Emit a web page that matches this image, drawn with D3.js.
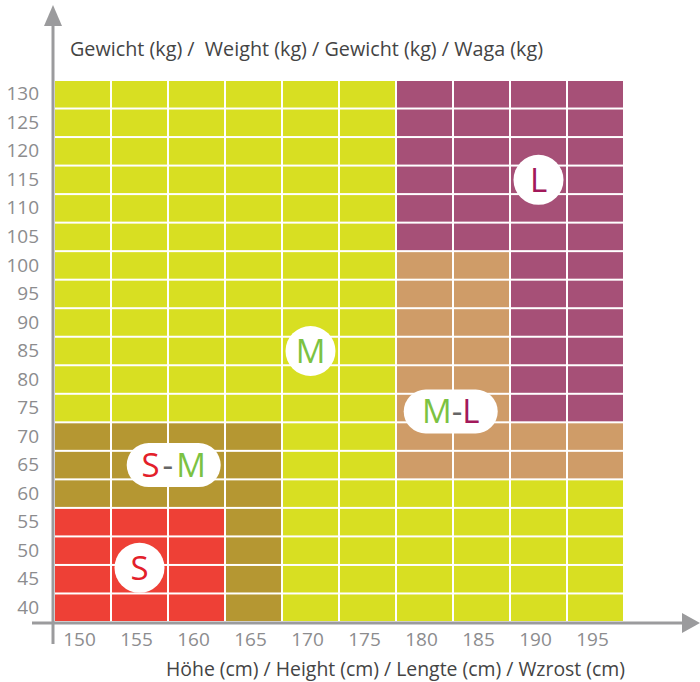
<!DOCTYPE html>
<html><head><meta charset="utf-8">
<script src="https://cdn.jsdelivr.net/npm/d3@7"></script>
<style>html,body{margin:0;padding:0;background:#fff}svg{display:block}</style>
</head><body>
<svg id="chart" width="700" height="682"></svg>
<script>
// ---- data ----
const heights = [150,155,160,165,170,175,180,185,190,195];
const weights = [130,125,120,115,110,105,100,95,90,85,80,75,70,65,60,55,50,45,40];
// size zone per weight row (top to bottom), one code per height column
const sizeRows = [
  ["M","M","M","M","M","M","L","L","L","L"], //130
  ["M","M","M","M","M","M","L","L","L","L"], //125
  ["M","M","M","M","M","M","L","L","L","L"], //120
  ["M","M","M","M","M","M","L","L","L","L"], //115
  ["M","M","M","M","M","M","L","L","L","L"], //110
  ["M","M","M","M","M","M","L","L","L","L"], //105
  ["M","M","M","M","M","M","ML","ML","L","L"], //100
  ["M","M","M","M","M","M","ML","ML","L","L"], //95
  ["M","M","M","M","M","M","ML","ML","L","L"], //90
  ["M","M","M","M","M","M","ML","ML","L","L"], //85
  ["M","M","M","M","M","M","ML","ML","L","L"], //80
  ["M","M","M","M","M","M","ML","ML","L","L"], //75
  ["SM","SM","SM","SM","M","M","ML","ML","ML","ML"], //70
  ["SM","SM","SM","SM","M","M","ML","ML","ML","ML"], //65
  ["SM","SM","SM","SM","M","M","M","M","M","M"], //60
  ["S","S","S","SM","M","M","M","M","M","M"], //55
  ["S","S","S","SM","M","M","M","M","M","M"], //50
  ["S","S","S","SM","M","M","M","M","M","M"], //45
  ["S","S","S","SM","M","M","M","M","M","M"]  //40
];
const zoneCodes = ["S","SM","M","ML","L"];
const zoneColors = ["#ee4036","#b59732","#d8df22","#cf9c68","#a65077"];
// badge labels at (height, weight)
const badgeNames = ["S","S-M","M","M-L","L"];
const badgeHeights = [155,158,170,182.3,190];
const badgeWeights = [47,65,85,74.4,115];
const yTitle = "Gewicht (kg) /  Weight (kg) / Gewicht (kg) / Waga (kg)";
const xTitle = "Höhe (cm) / Height (cm) / Lengte (cm) / Wzrost (cm)";

// ---- layout ----
const svg = d3.select("#chart");
const pL = 54, pR = 624, pT = 80, pB = 622;
const font = "'Open Sans', sans-serif";
const axisColor = "#9b9b9d";

const x = d3.scaleBand().domain(heights).range([pL, pR]).padding(0);
const y = d3.scaleBand().domain(weights).range([pT, pB]).padding(0);
const color = d3.scaleOrdinal().domain(zoneCodes).range(zoneColors);
const xl = d3.scaleLinear().domain([150,195]).range([x(150)+x.bandwidth()/2, x(195)+x.bandwidth()/2]);
const yl = d3.scaleLinear().domain([130,40]).range([y(130)+y.bandwidth()/2, y(40)+y.bandwidth()/2]);

const cells = [];
weights.forEach((w,i)=>heights.forEach((h,j)=>cells.push({h,w,z:sizeRows[i][j]})));
const gap = 1;
svg.append("g").selectAll("rect").data(cells).join("rect")
  .attr("x", d=>x(d.h)+gap).attr("y", d=>y(d.w)+gap)
  .attr("width", x.bandwidth()-2*gap).attr("height", y.bandwidth()-2*gap)
  .attr("fill", d=>color(d.z));

const ya = svg.append("g").attr("transform",`translate(${pL-15},0)`)
  .call(d3.axisLeft(y).tickSize(0).tickPadding(0));
ya.select(".domain").remove();
ya.selectAll("text").attr("fill","#8c8c8e").style("font-family",font).style("font-size","19px");

const xa = svg.append("g").attr("transform",`translate(-3,${pB+8})`)
  .call(d3.axisBottom(x).tickSize(0).tickPadding(0));
xa.select(".domain").remove();
xa.selectAll("text").attr("fill","#8c8c8e").style("font-family",font).style("font-size","19px").attr("dy","0.85em");

svg.append("line").attr("x1",53).attr("x2",53).attr("y1",22).attr("y2",644)
  .attr("stroke",axisColor).attr("stroke-width",3);
svg.append("path").attr("d","M53,5 L44,26 L62,26 Z").attr("fill",axisColor);
svg.append("line").attr("x1",32).attr("x2",686).attr("y1",623).attr("y2",623)
  .attr("stroke",axisColor).attr("stroke-width",3);
svg.append("path").attr("d","M700,623 L682,613 L682,633 Z").attr("fill",axisColor);

svg.append("text").attr("x",70).attr("y",56).text(yTitle).style("white-space","pre")
  .attr("fill","#444").style("font-family",font).style("font-size","19.5px")
  .attr("textLength",473).attr("lengthAdjust","spacingAndGlyphs");
svg.append("text").attr("x",166).attr("y",676).text(xTitle)
  .attr("fill","#444").style("font-family",font).style("font-size","19.5px")
  .attr("textLength",459).attr("lengthAdjust","spacingAndGlyphs");

const letterColor = {S:"#e3202a", M:"#7cc242", L:"#a2195b"};
badgeNames.forEach((name,i)=>{
  const cx = xl(badgeHeights[i]), cy = yl(badgeWeights[i]);
  const g = svg.append("g");
  if (name.length===1){
    g.append("circle").attr("cx",cx).attr("cy",cy).attr("r",25).attr("fill","#fff");
    g.append("text").attr("x",cx).attr("y",cy).attr("text-anchor","middle").attr("dy","0.36em")
      .style("font-family",font).style("font-size","33px").attr("fill",letterColor[name]).text(name);
  } else {
    const w = 94, hgt = 44;
    g.append("rect").attr("x",cx-w/2).attr("y",cy-hgt/2).attr("width",w).attr("height",hgt)
      .attr("rx",hgt/2).attr("fill","#fff");
    const parts = name.split("-");
    const sp = parts[0]==="S" ? 3 : 0;
    const t = g.append("text").attr("x",cx).attr("y",cy).attr("text-anchor","middle").attr("dy","0.36em")
      .style("font-family",font).style("font-size","33px");
    t.append("tspan").attr("fill",letterColor[parts[0]]).text(parts[0]);
    t.append("tspan").attr("fill","#666").attr("dx",sp).text("-");
    t.append("tspan").attr("fill",letterColor[parts[1]]).attr("dx",sp).text(parts[1]);
  }
});
</script>
</body></html>
